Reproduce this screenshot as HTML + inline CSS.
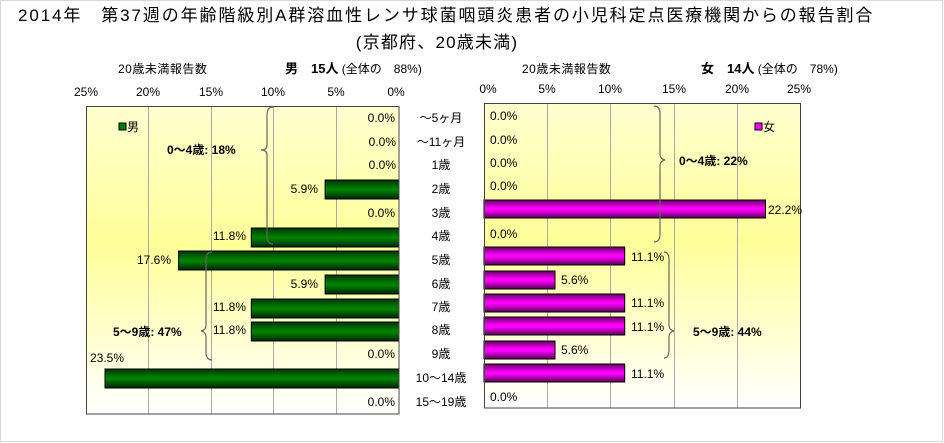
<!DOCTYPE html>
<html><head><meta charset="utf-8"><style>
body{margin:0;background:#fff}
svg{display:block;font-family:"Liberation Sans","Noto Sans CJK JP",sans-serif}
</style></head><body>
<svg width="944" height="443" viewBox="0 0 944 443" xmlns="http://www.w3.org/2000/svg">
<defs>
<linearGradient id="bg" x1="0" y1="0" x2="0" y2="1">
<stop offset="0" stop-color="#ffffd0"/><stop offset="0.45" stop-color="#ffff99"/><stop offset="1" stop-color="#ffffff"/>
</linearGradient>
<linearGradient id="gr" x1="0" y1="0" x2="0" y2="1">
<stop offset="0" stop-color="#003300"/><stop offset="0.45" stop-color="#008000"/><stop offset="0.55" stop-color="#008000"/><stop offset="1" stop-color="#002200"/>
</linearGradient>
<linearGradient id="pk" x1="0" y1="0" x2="0" y2="1">
<stop offset="0" stop-color="#660066"/><stop offset="0.45" stop-color="#ff00ff"/><stop offset="0.55" stop-color="#ff00ff"/><stop offset="1" stop-color="#550055"/>
</linearGradient>
</defs>
<rect x="0.5" y="0.5" width="942" height="441" fill="#fff" stroke="#d8d8d8"/>
<text x="18" y="21" font-size="17" letter-spacing="1.9">2014年　第37週の年齢階級別A群溶血性レンサ球菌咽頭炎患者の小児科定点医療機関からの報告割合</text>
<text x="437" y="48" font-size="17" text-anchor="middle" letter-spacing="1.2">(京都府、20歳未満)</text>
<g font-size="12">
<text x="118" y="73" letter-spacing="0.5">20歳未満報告数</text>
<text x="285" y="73"><tspan font-weight="bold" font-size="13">男　15人</tspan> (全体の　88%)</text>
<text x="522" y="73" letter-spacing="0.5">20歳未満報告数</text>
<text x="701" y="73"><tspan font-weight="bold" font-size="13">女　14人</tspan> (全体の　78%)</text>
</g>
<rect x="86" y="106" width="313" height="308" fill="url(#bg)"/>
<rect x="484" y="103" width="317" height="305" fill="url(#bg)"/>
<g stroke="#aaa" stroke-width="1">
<line x1="148.5" y1="106" x2="148.5" y2="414"/><line x1="211.5" y1="106" x2="211.5" y2="414"/>
<line x1="273.5" y1="106" x2="273.5" y2="414"/><line x1="336.5" y1="106" x2="336.5" y2="414"/>
<line x1="547.5" y1="103" x2="547.5" y2="408"/><line x1="610.5" y1="103" x2="610.5" y2="408"/>
<line x1="674.5" y1="103" x2="674.5" y2="408"/><line x1="737.5" y1="103" x2="737.5" y2="408"/>
</g>
<g font-size="12" text-anchor="middle">
<text x="86" y="96">25%</text><text x="148" y="96">20%</text><text x="211" y="96">15%</text><text x="273" y="96">10%</text><text x="336" y="96">5%</text><text x="396" y="96">0%</text>
<text x="488" y="93">0%</text><text x="547" y="93">5%</text><text x="610" y="93">10%</text><text x="674" y="93">15%</text><text x="737" y="93">20%</text><text x="799" y="93">25%</text>
</g>
<g>
<rect x="325.1" y="180" width="73.9" height="19" fill="url(#gr)" stroke="#000"/>
<rect x="251.3" y="228" width="147.7" height="19" fill="url(#gr)" stroke="#000"/>
<rect x="178.6" y="251" width="220.4" height="19" fill="url(#gr)" stroke="#000"/>
<rect x="325.1" y="275" width="73.9" height="19" fill="url(#gr)" stroke="#000"/>
<rect x="251.3" y="299" width="147.7" height="19" fill="url(#gr)" stroke="#000"/>
<rect x="251.3" y="322" width="147.7" height="19" fill="url(#gr)" stroke="#000"/>
<rect x="105" y="369" width="294" height="19" fill="url(#gr)" stroke="#000"/>
<rect x="484" y="200" width="281.5" height="18" fill="url(#pk)" stroke="#000"/>
<rect x="484" y="247" width="140.7" height="18" fill="url(#pk)" stroke="#000"/>
<rect x="484" y="271" width="71" height="18" fill="url(#pk)" stroke="#000"/>
<rect x="484" y="294" width="140.7" height="18" fill="url(#pk)" stroke="#000"/>
<rect x="484" y="317" width="140.7" height="18" fill="url(#pk)" stroke="#000"/>
<rect x="484" y="341" width="71" height="18" fill="url(#pk)" stroke="#000"/>
<rect x="484" y="364" width="140.7" height="18" fill="url(#pk)" stroke="#000"/>
</g>
<rect x="86.5" y="106.5" width="312.5" height="307.5" fill="none" stroke="#444"/>
<rect x="484.5" y="103.5" width="316" height="304.5" fill="none" stroke="#444"/>
<g font-size="12" text-anchor="end">
<text x="395" y="122">0.0%</text><text x="396" y="146">0.0%</text><text x="396" y="169">0.0%</text>
<text x="318" y="193">5.9%</text><text x="395" y="217">0.0%</text><text x="246" y="240">11.8%</text>
<text x="171" y="264">17.6%</text><text x="318" y="288">5.9%</text><text x="246" y="311">11.8%</text>
<text x="246" y="334">11.8%</text><text x="395" y="358">0.0%</text><text x="124" y="362">23.5%</text>
<text x="395" y="406">0.0%</text>
</g>
<g font-size="12" text-anchor="middle">
<text x="441" y="122">～5ヶ月</text><text x="441" y="146">～11ヶ月</text><text x="441" y="169">1歳</text>
<text x="441" y="193">2歳</text><text x="441" y="217">3歳</text><text x="441" y="240">4歳</text>
<text x="441" y="264">5歳</text><text x="441" y="288">6歳</text><text x="441" y="311">7歳</text>
<text x="441" y="334">8歳</text><text x="441" y="358">9歳</text><text x="441" y="382">10～14歳</text>
<text x="441" y="406">15～19歳</text>
</g>
<g font-size="12">
<text x="490" y="120">0.0%</text><text x="490" y="144">0.0%</text><text x="490" y="167">0.0%</text>
<text x="490" y="190">0.0%</text><text x="768" y="214">22.2%</text><text x="490" y="238">0.0%</text>
<text x="631" y="261">11.1%</text><text x="561" y="284">5.6%</text><text x="631" y="307">11.1%</text>
<text x="631" y="331">11.1%</text><text x="561" y="354">5.6%</text><text x="631" y="378">11.1%</text>
<text x="490" y="401">0.0%</text>
</g>
<g fill="none" stroke="#666" stroke-width="1.2">
<path d="M273,107 Q267,107 267,115 L267,145 Q267,150 261,150 Q267,150 267,155 L267,236 Q267,244 273,244"/>
<path d="M212,252 Q206,252 206,260 L206,325 Q206,330 201,331 Q206,332 206,337 L206,352 Q206,360 212,360"/>
<path d="M654,106 Q660,106 660,114 L660,154 Q660,159 665,160 Q660,161 660,166 L660,234 Q660,242 654,242"/>
<path d="M664,252 Q669,252 669,260 L669,325 Q669,330 674,331 Q669,332 669,337 L669,350 Q669,358 664,358"/>
</g>
<g font-size="12" font-weight="bold">
<text x="167" y="154">0～4歳: 18%</text>
<text x="113" y="336">5～9歳: 47%</text>
<text x="679" y="165">0～4歳: 22%</text>
<text x="693" y="336">5～9歳: 44%</text>
</g>
<g font-size="12">
<rect x="119" y="123" width="7" height="7" fill="#008000" stroke="#000"/><text x="127" y="131">男</text>
<rect x="755" y="123" width="7" height="7" fill="#ff00ff" stroke="#000"/><text x="763" y="131">女</text>
</g>
</svg>
</body></html>
